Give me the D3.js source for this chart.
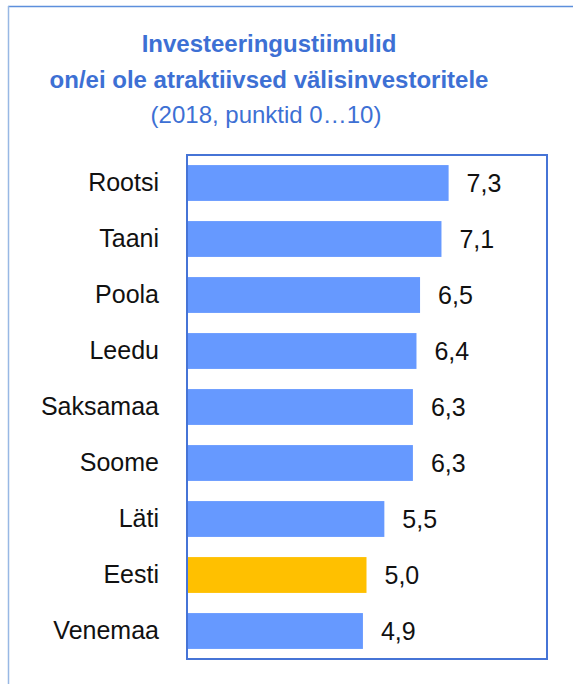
<!DOCTYPE html>
<html>
<head>
<meta charset="utf-8">
<script src="https://cdn.jsdelivr.net/npm/d3@7"></script>
<style>
  body { margin: 0; background: #fff; }
  svg { display: block; font-family: "Liberation Sans", Arial, sans-serif; }
</style>
</head>
<body>
<div id="chart"></div>
<script>
// data
var countries = ["Rootsi", "Taani", "Poola", "Leedu", "Saksamaa", "Soome", "Läti", "Eesti", "Venemaa"];
var scores = [7.3, 7.1, 6.5, 6.4, 6.3, 6.3, 5.5, 5.0, 4.9];
var highlight = "Eesti";
var titleLines = ["Investeeringustiimulid", "on/ei ole atraktiivsed välisinvestoritele"];
var subtitle = "(2018, punktid 0…10)";

var width = 573, height = 684;
var plot = { left: 188, top: 155, right: 547, bottom: 659 };

var svg = d3.select("#chart").append("svg")
  .attr("width", width)
  .attr("height", height);

// outer frame (only top and left visible)
svg.append("line").attr("x1", 8).attr("x2", width).attr("y1", 6.5).attr("y2", 6.5)
  .attr("stroke", "#5d8fdc").attr("stroke-width", 1.5);
svg.append("line").attr("x1", 8.5).attr("x2", 8.5).attr("y1", 6).attr("y2", height)
  .attr("stroke", "#98b8e4").attr("stroke-width", 1.5);

// title
var title = svg.append("g").attr("fill", "#3d70d4").attr("text-anchor", "middle");
title.selectAll("text.t")
  .data(titleLines)
  .enter().append("text")
  .attr("class", "t")
  .attr("x", 269)
  .attr("y", function (d, i) { return 52 + i * 36; })
  .attr("font-weight", "bold")
  .attr("font-size", 24)
  .text(function (d) { return d; });
title.append("text")
  .attr("x", 266)
  .attr("y", 123)
  .attr("font-size", 24)
  .text(subtitle);

// scales
var x = d3.scaleLinear().domain([0, 10]).range([plot.left, plot.left + 357]);
var y = d3.scaleBand().domain(countries).range([plot.top, plot.bottom]).paddingInner(0.36).paddingOuter(0.18);

// bars
svg.selectAll("rect.bar")
  .data(countries)
  .enter().append("rect")
  .attr("class", "bar")
  .attr("x", x(0))
  .attr("y", function (d) { return y(d); })
  .attr("width", function (d, i) { return x(scores[i]) - x(0); })
  .attr("height", y.bandwidth())
  .attr("fill", function (d) { return d === highlight ? "#ffc000" : "#6699ff"; });

// value labels
svg.selectAll("text.val")
  .data(countries)
  .enter().append("text")
  .attr("class", "val")
  .attr("x", function (d, i) { return x(scores[i]) + 18; })
  .attr("y", function (d) { return y(d) + y.bandwidth() / 2; })
  .attr("dy", "0.36em")
  .attr("font-size", 25)
  .attr("fill", "#111")
  .text(function (d, i) { return d3.format(".1f")(scores[i]).replace(".", ","); });

// category axis labels
var yAxis = svg.append("g")
  .attr("transform", "translate(" + (plot.left - 1) + ",0)")
  .call(d3.axisLeft(y).tickSize(0).tickPadding(28));
yAxis.select(".domain").remove();
yAxis.selectAll("text")
  .attr("font-family", "Liberation Sans, Arial, sans-serif")
  .attr("font-size", 25)
  .attr("fill", "#111");

// plot border
svg.append("rect")
  .attr("x", plot.left - 1)
  .attr("y", plot.top)
  .attr("width", plot.right - plot.left + 1)
  .attr("height", plot.bottom - plot.top)
  .attr("fill", "none")
  .attr("stroke", "#4674d6")
  .attr("stroke-width", 2);
</script>
</body>
</html>
